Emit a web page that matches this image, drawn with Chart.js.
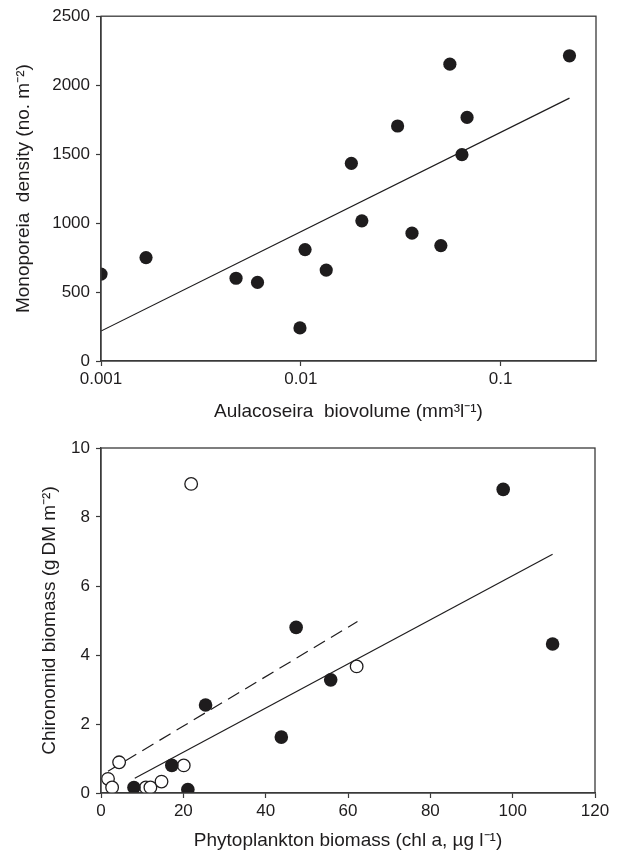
<!DOCTYPE html>
<html>
<head>
<meta charset="utf-8">
<script src="https://cdn.jsdelivr.net/npm/chart.js@4.4.1/dist/chart.umd.min.js"></script>
<style>
  html, body { margin: 0; padding: 0; background: #fff; }
  #page { position: relative; width: 620px; height: 852px; }
  .panel { position: absolute; left: 0; width: 620px; height: 426px; }
  #p1 { top: 0; }
  #p2 { top: 426px; }
</style>
</head>
<body>
<div id="page">
  <div class="panel" id="p1"><canvas id="topChart"></canvas></div>
  <div class="panel" id="p2"><canvas id="botChart"></canvas></div>
</div>
<script>
// ── DATA ───────────────────────────────────────────────────────────────────
// top panel: Aulacoseira biovolume vs Monoporeia density
const aulacoX = [0.001, 0.00168, 0.00474, 0.00607, 0.0099, 0.0105, 0.0134, 0.0179, 0.0202, 0.0305, 0.036, 0.0502, 0.0557, 0.064, 0.0679, 0.221];
const monoY   = [630, 750, 600, 570, 240, 808, 659, 1433, 1016, 1704, 927, 837, 2152, 1496, 1766, 2213];
const topFitX = [0.001, 0.221];
const topFitY = [217, 1906];
const topXTicks = [0.001, 0.01, 0.1];
const topXTickLabels = ["0.001", "0.01", "0.1"];
const topYTicks = [0, 500, 1000, 1500, 2000, 2500];

// bottom panel: phytoplankton chl a vs chironomid biomass
const filledX = [8, 17.2, 21.1, 25.4, 43.8, 47.4, 55.8, 97.7, 109.7];
const filledY = [0.16, 0.80, 0.10, 2.55, 1.62, 4.80, 3.28, 8.80, 4.32];
const openX   = [1.7, 2.7, 4.4, 10.9, 12.0, 14.7, 20.1, 21.9, 62.1];
const openY   = [0.41, 0.16, 0.89, 0.16, 0.16, 0.33, 0.80, 8.96, 3.67];
const solidFitX  = [8.2, 109.7];
const solidFitY  = [0.43, 6.92];
const dashedFitX = [1.7, 62.3];
const dashedFitY = [0.63, 4.97];
const botXTicks = [0, 20, 40, 60, 80, 100, 120];
const botYTicks = [0, 2, 4, 6, 8, 10];

// ── STYLE ──────────────────────────────────────────────────────────────────
const ink = "#1e1c1d";
const axisInk = "#3a3a3a";
const fontFam = "'Liberation Sans', Arial, Helvetica, sans-serif";
const tickSize = 17, titleSize = 19;
Chart.defaults.font.family = fontFam;
Chart.defaults.color = ink;

const pts = (xs, ys) => xs.map((x, i) => ({ x, y: ys[i] }));

// draws the closed frame round the plot area
const framePlugin = {
  id: "frame",
  afterDraw(chart) {
    const { ctx, chartArea: a } = chart;
    ctx.save();
    ctx.strokeStyle = axisInk;
    ctx.lineWidth = 1.3;
    ctx.strokeRect(a.left, a.top, a.right - a.left, a.bottom - a.top);
    ctx.restore();
  },
};

function xAxis(extra, height, titleText, titlePad) {
  return Object.assign({
    position: "bottom",
    afterFit: s => { s.height = height; },
    grid: { drawOnChartArea: false, drawTicks: true, tickLength: 5, tickColor: axisInk, tickWidth: 1.2 },
    border: { display: true, color: axisInk, width: 1.3 },
    ticks: { color: ink, font: { size: tickSize }, padding: 3, maxRotation: 0, autoSkip: false, callback: v => String(v) },
    title: { display: true, text: titleText, color: ink, font: { size: titleSize }, padding: titlePad },
  }, extra);
}

function yAxis(extra, titleText, titlePad) {
  return Object.assign({
    position: "left",
    afterFit: s => { s.width = 101; },
    grid: { drawOnChartArea: false, drawTicks: true, tickLength: 5, tickColor: axisInk, tickWidth: 1.2 },
    border: { display: true, color: axisInk, width: 1.3 },
    ticks: { color: ink, font: { size: tickSize }, padding: 6, callback: v => String(v) },
    title: { display: true, text: titleText, color: ink, font: { size: titleSize }, padding: titlePad },
  }, extra);
}

// ── TOP CHART ──────────────────────────────────────────────────────────────
new Chart(document.getElementById("topChart"), {
  type: "scatter",
  data: {
    datasets: [
      { data: pts(aulacoX, monoY), backgroundColor: ink, borderColor: ink, borderWidth: 0, pointRadius: 6.6, order: 0 },
      { data: pts(topFitX, topFitY), showLine: true, borderColor: ink, borderWidth: 1.2, pointRadius: 0, fill: false, order: 1 },
    ],
  },
  options: {
    responsive: true, maintainAspectRatio: false, animation: false,
    layout: { padding: { top: 15, right: 24, left: 0, bottom: 0 } },
    plugins: { legend: { display: false }, tooltip: { enabled: false } },
    scales: {
      x: xAxis({
        type: "logarithmic", min: 0.001, max: 0.3,
        afterBuildTicks: s => { s.ticks = topXTicks.map(v => ({ value: v })); },
        ticks: { color: ink, font: { size: tickSize }, padding: 3, maxRotation: 0, autoSkip: false,
          callback: v => topXTickLabels[topXTicks.indexOf(v)] ?? "" },
      }, 65, "Aulacoseira  biovolume (mm\u00B3l\u207B\u00B9)", { top: 0, bottom: 3 }),
      y: yAxis({
        min: 0, max: 2500,
        afterBuildTicks: s => { s.ticks = topYTicks.map(v => ({ value: v })); },
      }, "Monoporeia  density (no. m\u207B\u00B2)", { top: 12, bottom: 0 }),
    },
  },
  plugins: [framePlugin],
});

// ── BOTTOM CHART ───────────────────────────────────────────────────────────
new Chart(document.getElementById("botChart"), {
  type: "scatter",
  data: {
    datasets: [
      { data: pts(filledX, filledY), backgroundColor: ink, borderColor: ink, borderWidth: 0, pointRadius: 6.8, order: 0 },
      { data: pts(openX, openY), backgroundColor: "#ffffff", borderColor: ink, borderWidth: 1.3, pointRadius: 6.3, order: 0 },
      { data: pts(solidFitX, solidFitY), showLine: true, borderColor: ink, borderWidth: 1.2, pointRadius: 0, fill: false, order: 1 },
      { data: pts(dashedFitX, dashedFitY), showLine: true, borderColor: ink, borderWidth: 1.2, borderDash: [13, 7], pointRadius: 0, fill: false, order: 1 },
    ],
  },
  options: {
    responsive: true, maintainAspectRatio: false, animation: false,
    layout: { padding: { top: 22, right: 25, left: 0, bottom: 0 } },
    plugins: { legend: { display: false }, tooltip: { enabled: false } },
    scales: {
      x: xAxis({
        type: "linear", min: 0, max: 120,
        afterBuildTicks: s => { s.ticks = botXTicks.map(v => ({ value: v })); },
      }, 59, "Phytoplankton biomass (chl a, \u00B5g l\u207B\u00B9)", { top: 0, bottom: 0 }),
      y: yAxis({
        min: 0, max: 10,
        afterBuildTicks: s => { s.ticks = botYTicks.map(v => ({ value: v })); },
      }, "Chironomid biomass (g\u2009DM m\u207B\u00B2)", { top: 38, bottom: 0 }),
    },
  },
  plugins: [framePlugin],
});
</script>
</body>
</html>
